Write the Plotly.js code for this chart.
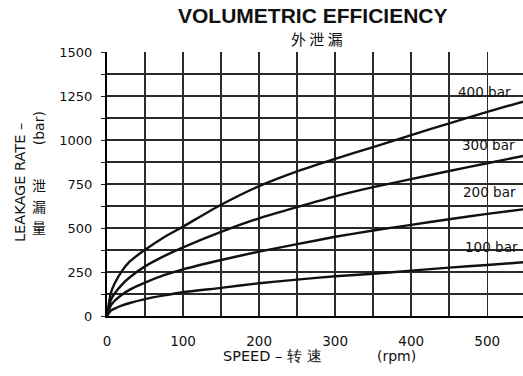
<!DOCTYPE html>
<html>
<head>
<meta charset="utf-8">
<script src="https://cdn.plot.ly/plotly-3.0.1.min.js"></script>
<style>html,body{margin:0;padding:0;background:#fff;}#chart{width:523px;height:376px;}</style>
</head>
<body>
<div id="chart"></div>
<script>
// Speed (rpm)
const speed = [0, 5, 10, 20, 30, 50, 75, 100, 150, 200, 250, 300, 350, 400, 450, 500, 547];
// Leakage rate per pressure
const bar400 = [0, 130, 185, 258, 310, 376, 448, 508, 632, 738, 822, 893, 960, 1028, 1095, 1160, 1218];
const bar300 = [0, 90, 128, 180, 220, 282, 340, 390, 478, 555, 619, 680, 732, 778, 824, 868, 909];
const bar200 = [0, 60, 86, 122, 150, 190, 232, 265, 318, 366, 408, 450, 486, 518, 550, 580, 606];
const bar100 = [0, 30, 42, 60, 74, 96, 117, 135, 160, 186, 207, 226, 240, 258, 275, 290, 305];
const seriesNames = ["400 bar", "300 bar", "200 bar", "100 bar"];
const labelX = [496, 501, 503, 506];
const labelY = [1273, 972, 705, 392];
const xTickVals = [0, 100, 200, 300, 400, 500];
const yTickVals = [0, 250, 500, 750, 1000, 1250, 1500];

const allSeries = [bar400, bar300, bar200, bar100];
const traces = allSeries.map((ys, i) => ({
  x: speed, y: ys, type: 'scatter', mode: 'lines', name: seriesNames[i],
  line: {color: '#111', width: 2.4, shape: 'spline', smoothing: 0.6},
  showlegend: false, hoverinfo: 'skip'
}));

const F = "DejaVu Sans, Arial, sans-serif";
const CJK = "Noto Sans CJK SC";
const annotations = seriesNames.map((s, i) => ({
  x: labelX[i], y: labelY[i], xref: 'x', yref: 'y', text: s, showarrow: false,
  font: {family: F, size: 13.5, color: '#111'}, xanchor: 'center', yanchor: 'middle'
}));
annotations.push(
  {xref: 'paper', yref: 'paper', x: 0.505, y: 1.053, text: '外 泄 漏', showarrow: false,
   font: {family: CJK, size: 15, color: '#111'}, xanchor: 'center', yanchor: 'middle'},
  {xref: 'paper', yref: 'paper', x: 0.399, y: -0.152, text: 'SPEED – 转 速', showarrow: false,
   font: {family: F, size: 14.5, color: '#111'}, xanchor: 'center', yanchor: 'middle'},
  {xref: 'paper', yref: 'paper', x: 0.695, y: -0.152, text: '(rpm)', showarrow: false,
   font: {family: F, size: 14, color: '#111'}, xanchor: 'center', yanchor: 'middle'},
  {xref: 'paper', yref: 'paper', x: -0.209, y: 0.504, text: 'LEAKAGE RATE –', showarrow: false, textangle: -90,
   font: {family: F, size: 14.5, color: '#111'}, xanchor: 'center', yanchor: 'middle'},
  {xref: 'paper', yref: 'paper', x: -0.163, y: 0.712, text: '(bar)', showarrow: false, textangle: -90,
   font: {family: F, size: 14, color: '#111'}, xanchor: 'center', yanchor: 'middle'},
  {xref: 'paper', yref: 'paper', x: -0.163, y: 0.496, text: '泄', showarrow: false,
   font: {family: CJK, size: 14, color: '#111'}, xanchor: 'center', yanchor: 'middle'},
  {xref: 'paper', yref: 'paper', x: -0.163, y: 0.417, text: '漏', showarrow: false,
   font: {family: CJK, size: 14, color: '#111'}, xanchor: 'center', yanchor: 'middle'},
  {xref: 'paper', yref: 'paper', x: -0.163, y: 0.337, text: '量', showarrow: false,
   font: {family: CJK, size: 14, color: '#111'}, xanchor: 'center', yanchor: 'middle'}
);

const gridC = '#2a2a2a';
const layout = {
  width: 523, height: 376,
  margin: {l: 107, r: 0, t: 52, b: 60, pad: 0},
  paper_bgcolor: '#fff', plot_bgcolor: '#fff',
  title: {text: 'VOLUMETRIC EFFICIENCY', xref: 'container', yref: 'container', x: 0.598, y: 0.958,
          xanchor: 'center', yanchor: 'middle',
          font: {family: 'Liberation Sans, Arial, sans-serif', size: 21, color: '#111', weight: 'bold'}},
  xaxis: {
    range: [0, 547], tickvals: xTickVals, showgrid: true, gridcolor: gridC, gridwidth: 1.5,
    minor: {dtick: 50, tick0: 0, showgrid: true, gridcolor: gridC, gridwidth: 1.5},
    showline: true, linecolor: '#000', linewidth: 2, zeroline: false,
    ticks: '', ticklabelstandoff: 12,
    tickfont: {family: F, size: 13.5, color: '#111'}
  },
  yaxis: {
    range: [0, 1500], tickvals: yTickVals, showgrid: true, gridcolor: gridC, gridwidth: 1.5,
    minor: {dtick: 125, tick0: 0, showgrid: true, gridcolor: gridC, gridwidth: 1.5, ticks: 'outside', ticklen: 4, tickcolor: '#222'},
    showline: true, linecolor: '#000', linewidth: 2, zeroline: false,
    ticks: 'outside', ticklen: 4, tickcolor: '#222', ticklabelstandoff: 6,
    tickfont: {family: F, size: 13, color: '#111'}
  },
  annotations: annotations
};

Plotly.newPlot('chart', traces, layout, {displayModeBar: false, staticPlot: true});
</script>
</body>
</html>
